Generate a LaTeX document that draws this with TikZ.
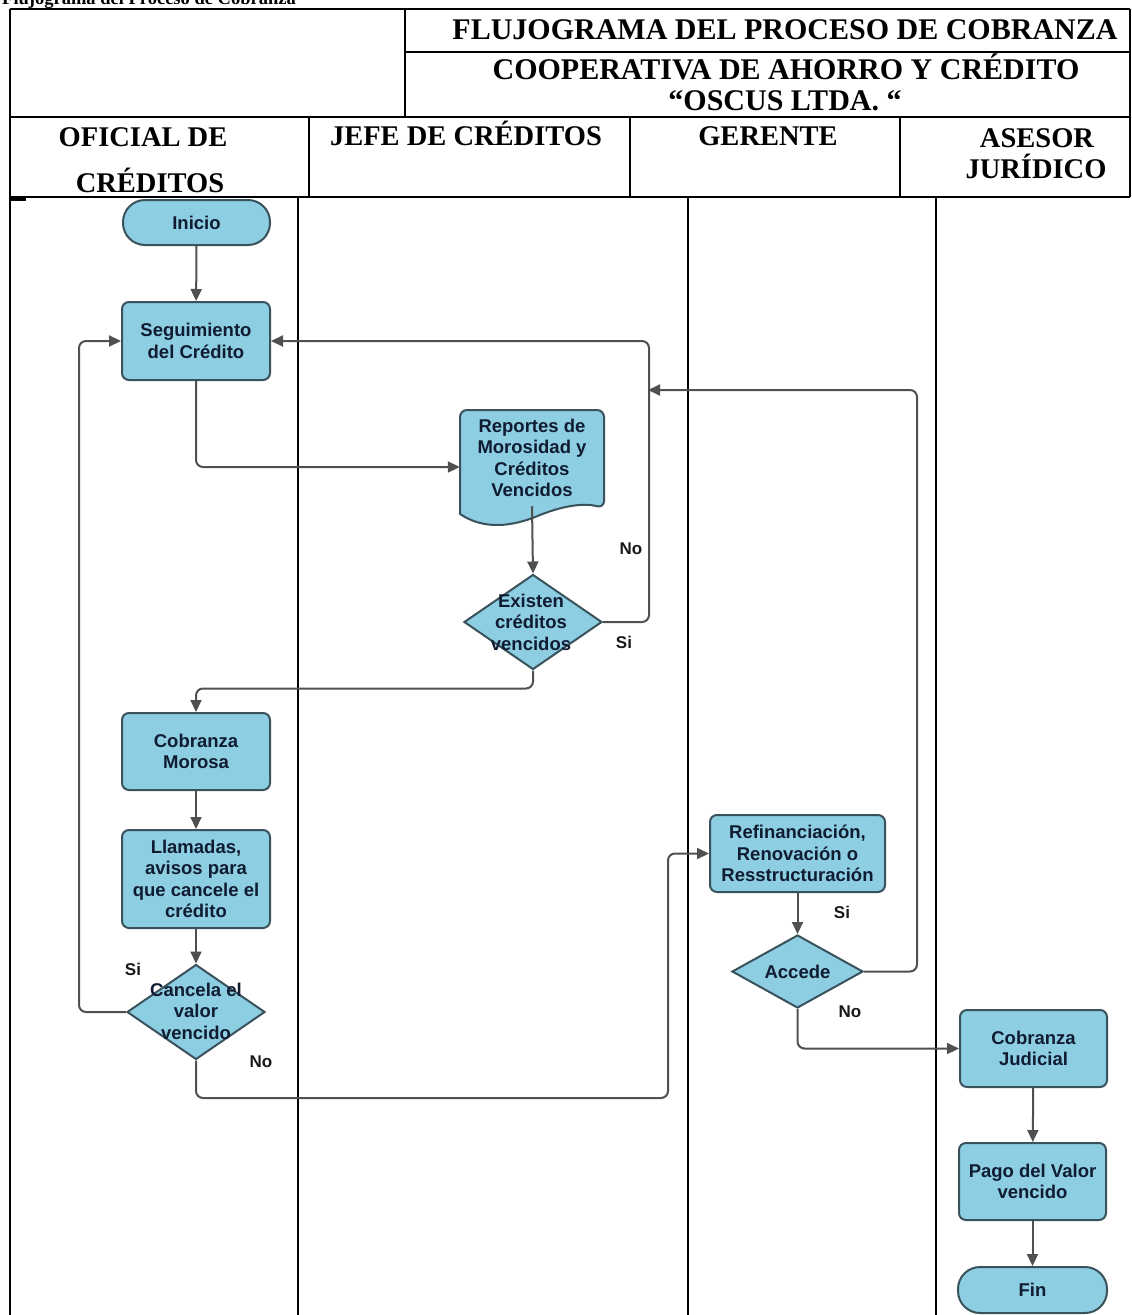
\documentclass[tikz,border=0pt]{standalone}
\usepackage{fontspec}
\setmainfont{Liberation Serif}
\newfontfamily\flowfont{Liberation Sans}
\usetikzlibrary{arrows.meta,shapes.geometric}
\definecolor{boxfill}{RGB}{141,206,226}
\definecolor{boxline}{RGB}{58,82,92}
\definecolor{boxtext}{RGB}{16,28,50}
\definecolor{connc}{RGB}{80,80,80}
\begin{document}
\begin{tikzpicture}[x=1pt,y=-1pt,
  proc/.style={draw=boxline, fill=boxfill, line width=2pt, rounded corners=7pt,
    minimum width=148pt, minimum height=78pt, inner sep=0pt,
    font=\flowfont\bfseries\fontsize{18.5}{21.5}\selectfont, text=boxtext, align=center},
  term/.style={proc, rounded corners=22pt, minimum height=45pt},
  dia/.style={diamond, draw=boxline, fill=boxfill, line width=2pt, inner sep=0pt},
  dtext/.style={font=\flowfont\bfseries\fontsize{18.5}{21.5}\selectfont, text=boxtext, align=center, inner sep=0pt},
  conn/.style={draw=connc, line width=2pt, rounded corners=7pt, -{Triangle[length=12pt,width=11pt]}},
  lbl/.style={font=\flowfont\bfseries\fontsize{17}{20}\selectfont, text=black!90, inner sep=0pt},
  hdrA/.style={font=\bfseries\fontsize{30}{32}\selectfont, inner sep=0pt, anchor=base},
  hdrB/.style={font=\bfseries\fontsize{28.5}{30}\selectfont, inner sep=0pt, anchor=base},
  frame/.style={draw=black, line width=2pt},
  lane/.style={draw=black, line width=1.6pt}
]
\useasboundingbox (0,0) rectangle (1132,1315);
\clip (0,0) rectangle (1132,1315);
\fill[white] (0,0) rectangle (1132,1315);

% title (cut off at top, as in the reference)
\node[font=\bfseries\fontsize{18.5}{20}\selectfont, anchor=base west, inner sep=0pt] (title) at (2,4.5) {Flujograma del Proceso de Cobranza};

% header table
\draw[frame] (10,9) -- (1130,9);
\draw[frame] (10,9) -- (10,1315);
\draw[frame] (1130,9) -- (1130,197);
\draw[frame] (405,9) -- (405,117);
\draw[frame] (405,52) -- (1130,52);
\draw[frame] (10,117) -- (1130,117);
\draw[frame] (309,117) -- (309,197);
\draw[frame] (630,117) -- (630,197);
\draw[frame] (900,117) -- (900,197);
\draw[frame] (10,197) -- (1130,197);
\draw[black, line width=2.6pt] (10,199.5) -- (26,199.5);

\node[hdrA] (h1) at (785,39) {FLUJOGRAMA DEL PROCESO DE COBRANZA};
\node[hdrA] (h2) at (786,79) {COOPERATIVA DE AHORRO Y CRÉDITO};
\node[hdrA] (h3) at (785,110) {“OSCUS LTDA. “};
\node[hdrB] (c1a) at (143,146) {OFICIAL DE};
\node[hdrB] (c1b) at (150,192) {CRÉDITOS};
\node[hdrB] (c2) at (466,145) {JEFE DE CRÉDITOS};
\node[hdrB] (c3) at (768,145) {GERENTE};
\node[hdrB] (c4a) at (1037,147) {ASESOR};
\node[hdrB] (c4b) at (1036,178) {JURÍDICO};

% lanes
\draw[lane] (298,197) -- (298,1315);
\draw[lane] (688,197) -- (688,1315);
\draw[lane] (936,197) -- (936,1315);

% nodes
\node[term, minimum width=147pt] (ini) at (196.5,222.5) {Inicio};
\node[proc] (seg) at (196,341) {Seguimiento\\del Crédito};

\path[draw=boxline, fill=boxfill, line width=2pt, rounded corners=7pt]
  (460,514) -- (460,410) -- (604,410) -- (604,508) [sharp corners]
  .. controls (585,503) and (565,505) .. (540,515)
  .. controls (512,527) and (484,530) .. (460,514) -- cycle;
\node[dtext, minimum width=144pt, minimum height=96pt] (rep) at (532,458) {Reportes de\\Morosidad y\\Créditos\\Vencidos};

\node[dia, minimum width=138pt, minimum height=95pt] (ex) at (533,622) {};
\node[dtext] (extxt) at (531,622) {Existen\\créditos\\vencidos};

\node[proc, minimum height=77pt] (cob) at (196,751.5) {Cobranza\\Morosa};
\node[proc, minimum height=98pt] (lla) at (196,879) {Llamadas,\\avisos para\\que cancele el\\crédito};
\node[dia, minimum width=138pt, minimum height=95pt] (can) at (196,1012) {};
\node[dtext] (cantxt) at (196,1011) {Cancela el\\valor\\vencido};

\node[proc, minimum width=175pt, minimum height=77pt] (ref) at (797.5,853.5) {Refinanciación,\\Renovación o\\Resstructuración};
\node[dia, minimum width=131pt, minimum height=73pt] (acc) at (797.5,971.5) {};
\node[dtext] (acctxt) at (797.5,971.5) {Accede};

\node[proc, minimum width=147pt, minimum height=77pt] (jud) at (1033.5,1048.5) {Cobranza\\Judicial};
\node[proc, minimum width=147pt, minimum height=77pt] (pago) at (1032.5,1181.5) {Pago del Valor\\vencido};
\node[term, minimum width=149pt, minimum height=46pt] (fin) at (1032.5,1290) {Fin};

% connectors
\coordinate (j1) at (648,390);
\coordinate (nb) at (668,1098);
\draw[conn] (ini) -- (seg);
\draw[conn] (seg.south) |- ([yshift=-9pt]rep.west);
\draw[conn] (rep.south) -- (ex.north);
\draw[conn] (ex.east) -- ++(46,0) |- (seg.east);
\draw[conn] (ex.south) -- ++(0,18) -| (cob.north);
\draw[conn] (cob) -- (lla);
\draw[conn] (lla) -- (can);
\draw[conn] (can.west) -- ++(-47,0) |- (seg.west);
\draw[conn] (can.south) |- (nb) |- (ref.west);
\draw[conn] (ref) -- (acc);
\draw[conn] (acc.east) -- ++(53,0) |- (j1);
\draw[conn] (acc.south) |- (jud.west);
\draw[conn] (jud) -- (pago);
\draw[conn] (pago) -- (fin);

% labels
\node[lbl] (l1) at (631,549) {No};
\node[lbl] (l2) at (624,642) {Si};
\node[lbl] (l3) at (133,969) {Si};
\node[lbl] (l4) at (261,1062) {No};
\node[lbl] (l5) at (842,912) {Si};
\node[lbl] (l6) at (850,1012) {No};
\end{tikzpicture}
\end{document}
